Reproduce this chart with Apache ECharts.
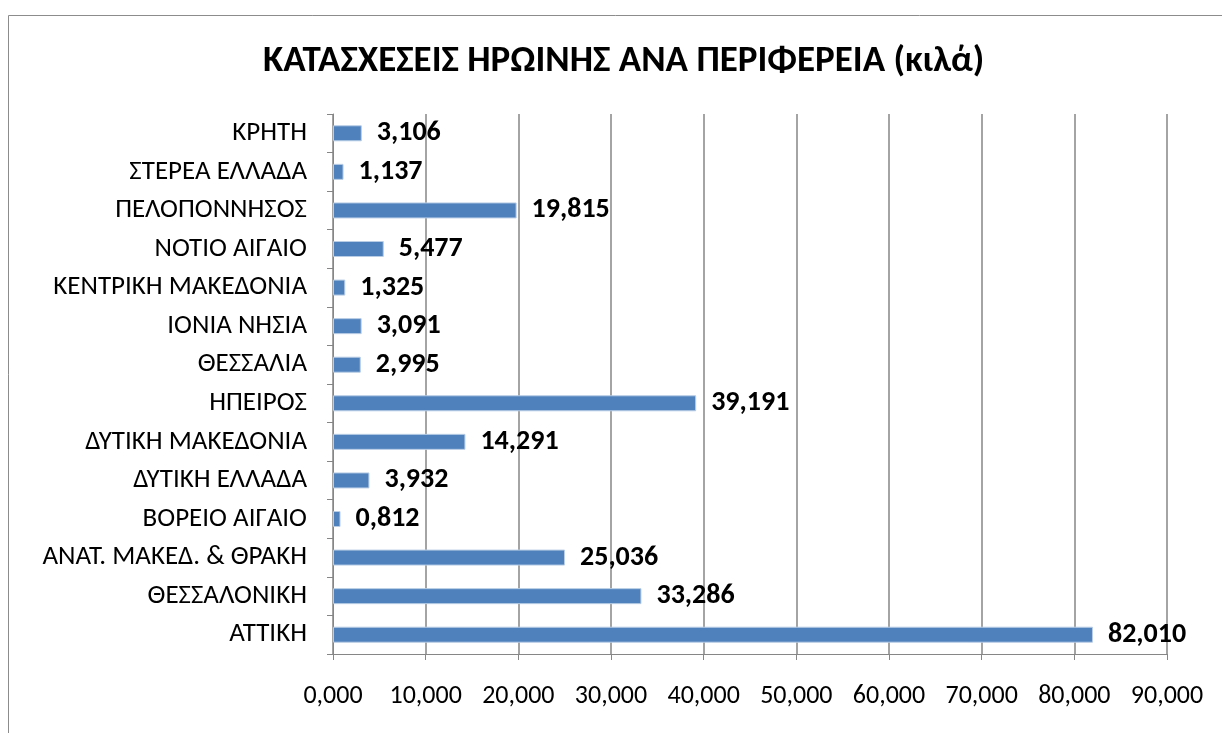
<!DOCTYPE html>
<html>
<head>
<meta charset="utf-8">
<script src="https://cdn.jsdelivr.net/npm/echarts@6/dist/echarts.min.js"></script>
<style>
  html, body { margin: 0; padding: 0; background: #fff; }
  #main { width: 1222px; height: 733px; }
</style>
</head>
<body>
<div id="main"></div>
<script>
// περιφέρειες (από κάτω προς τα πάνω)
var regions = [
  "ΑΤΤΙΚΗ", "ΘΕΣΣΑΛΟΝΙΚΗ", "ΑΝΑΤ. ΜΑΚΕΔ. & ΘΡΑΚΗ", "ΒΟΡΕΙΟ ΑΙΓΑΙΟ",
  "ΔΥΤΙΚΗ ΕΛΛΑΔΑ", "ΔΥΤΙΚΗ ΜΑΚΕΔΟΝΙΑ", "ΗΠΕΙΡΟΣ", "ΘΕΣΣΑΛΙΑ",
  "ΙΟΝΙΑ ΝΗΣΙΑ", "ΚΕΝΤΡΙΚΗ ΜΑΚΕΔΟΝΙΑ", "ΝΟΤΙΟ ΑΙΓΑΙΟ", "ΠΕΛΟΠΟΝΝΗΣΟΣ",
  "ΣΤΕΡΕΑ ΕΛΛΑΔΑ", "ΚΡΗΤΗ"
];
var kilos = [
  82.010, 33.286, 25.036, 0.812,
  3.932, 14.291, 39.191, 2.995,
  3.091, 1.325, 5.477, 19.815,
  1.137, 3.106
];
var axisMin = 0;
var axisMax = 90;
var axisStep = 10;

function fmt(v) {
  return v.toFixed(3).replace(".", ",");
}

var font = "Calibri, Carlito, 'Liberation Sans Narrow', 'Open Sans', sans-serif";

var myChart = echarts.init(document.getElementById("main"));
myChart.setOption({
  animation: false,
  textStyle: { fontFamily: font },
  title: {
    text: "ΚΑΤΑΣΧΕΣΕΙΣ ΗΡΩΙΝΗΣ ΑΝΑ ΠΕΡΙΦΕΡΕΙΑ (κιλά)",
    left: 258,
    top: 38,
    textStyle: { fontFamily: font, fontSize: 37, fontWeight: "bold", color: "#000" }
  },
  graphic: [{
    type: "rect",
    shape: { x: 8.5, y: 15.5, width: 1300, height: 800 },
    style: { fill: "none", stroke: "#8c8c8c", lineWidth: 1 },
    silent: true
  }],
  grid: {
    left: 333,
    right: 55,
    top: 114,
    bottom: 79,
    containLabel: false
  },
  xAxis: {
    type: "value",
    min: axisMin,
    max: axisMax,
    interval: axisStep,
    axisLine: { show: true, lineStyle: { color: "#868686" } },
    axisTick: { show: true, length: 6, lineStyle: { color: "#868686" } },
    splitLine: { show: true, lineStyle: { color: "#868686", width: 1.5 } },
    axisLabel: {
      margin: 29,
      fontSize: 26,
      color: "#000",
      fontFamily: font,
      formatter: function (v) { return fmt(v); }
    }
  },
  yAxis: {
    type: "category",
    data: regions,
    axisLine: { show: true, lineStyle: { color: "#868686" } },
    axisTick: { show: true, length: 6, lineStyle: { color: "#868686" } },
    axisLabel: { margin: 26, fontSize: 27, color: "#000", fontFamily: font }
  },
  series: [{
    type: "bar",
    data: kilos,
    barWidth: 16,
    itemStyle: { color: "#4f81bd", borderColor: "#b9cde5", borderWidth: 1 },
    label: {
      show: true,
      position: "right",
      distance: 15,
      fontSize: 28,
      fontWeight: "bold",
      color: "#000",
      fontFamily: font,
      formatter: function (p) { return fmt(p.value); }
    }
  }]
});
</script>
</body>
</html>
